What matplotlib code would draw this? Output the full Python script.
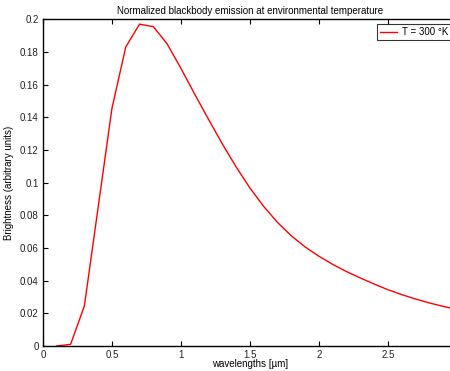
import matplotlib
matplotlib.use("Agg")
import matplotlib.pyplot as plt

plt.rcParams['font.family'] = ['Liberation Sans', 'DejaVu Sans']

wavelengths = [0.1, 0.2, 0.3, 0.4, 0.5, 0.6, 0.7, 0.8, 0.9, 1.0,
               1.1, 1.2, 1.3, 1.4, 1.5, 1.6, 1.7, 1.8, 1.9, 2.0,
               2.1, 2.2, 2.3, 2.4, 2.5, 2.6, 2.7, 2.8, 2.9, 3.0]
brightness = [0.0, 0.001, 0.0245, 0.085, 0.1455, 0.183, 0.197, 0.1955, 0.185, 0.170,
              0.1542, 0.1388, 0.1238, 0.1097, 0.0968, 0.0855, 0.0757, 0.0675, 0.0607, 0.0550,
              0.0500, 0.0456, 0.0417, 0.0380, 0.0345, 0.0315, 0.0288, 0.0264, 0.0243, 0.0224]

xticks = [0, 0.5, 1, 1.5, 2, 2.5]
xticklabels = ['0', '0.5', '1', '1.5', '2', '2.5']
yticks = [0, 0.02, 0.04, 0.06, 0.08, 0.1, 0.12, 0.14, 0.16, 0.18, 0.2]
yticklabels = ['0', '0.02', '0.04', '0.06', '0.08', '0.1', '0.12', '0.14', '0.16', '0.18', '0.2']

fig = plt.figure(figsize=(4.5, 3.71), dpi=100)
W, H = 450, 371
left, right, top, bottom = 43, 456.7, 19.3, 346
ax = fig.add_axes([left / W, (H - bottom) / H, (right - left) / W, (bottom - top) / H])

ax.plot(wavelengths, brightness, color='red', lw=1.0, label='T = 300 °K')
ax.set_xlim(0, 3)
ax.set_ylim(0, 0.2)
ax.set_xticks(xticks)
ax.set_xticklabels(xticklabels)
ax.set_yticks(yticks)
ax.set_yticklabels(yticklabels)
ax.tick_params(direction='in', length=3.5, width=0.8, labelsize=7, top=True, right=True,
               colors='black', labelcolor='#222222', pad=3)
for s in ax.spines.values():
    s.set_linewidth(1.0)
    s.set_color('black')

ax.set_title('Normalized blackbody emission at environmental temperature', fontsize=7, pad=4)
ax.set_xlabel('wavelengths [µm]', fontsize=7, labelpad=-1)
ax.set_ylabel('Brightness (arbitrary units)', fontsize=7, labelpad=4)

leg = ax.legend(loc='upper right', bbox_to_anchor=((451 - left) / (right - left), (bottom - 24) / (bottom - top)),
                fontsize=7, frameon=True, fancybox=False, edgecolor='black',
                handlelength=1.7, handletextpad=0.5, borderpad=0.3, borderaxespad=0.0)
leg.get_frame().set_linewidth(0.8)

fig.savefig('out.png', dpi=100)
